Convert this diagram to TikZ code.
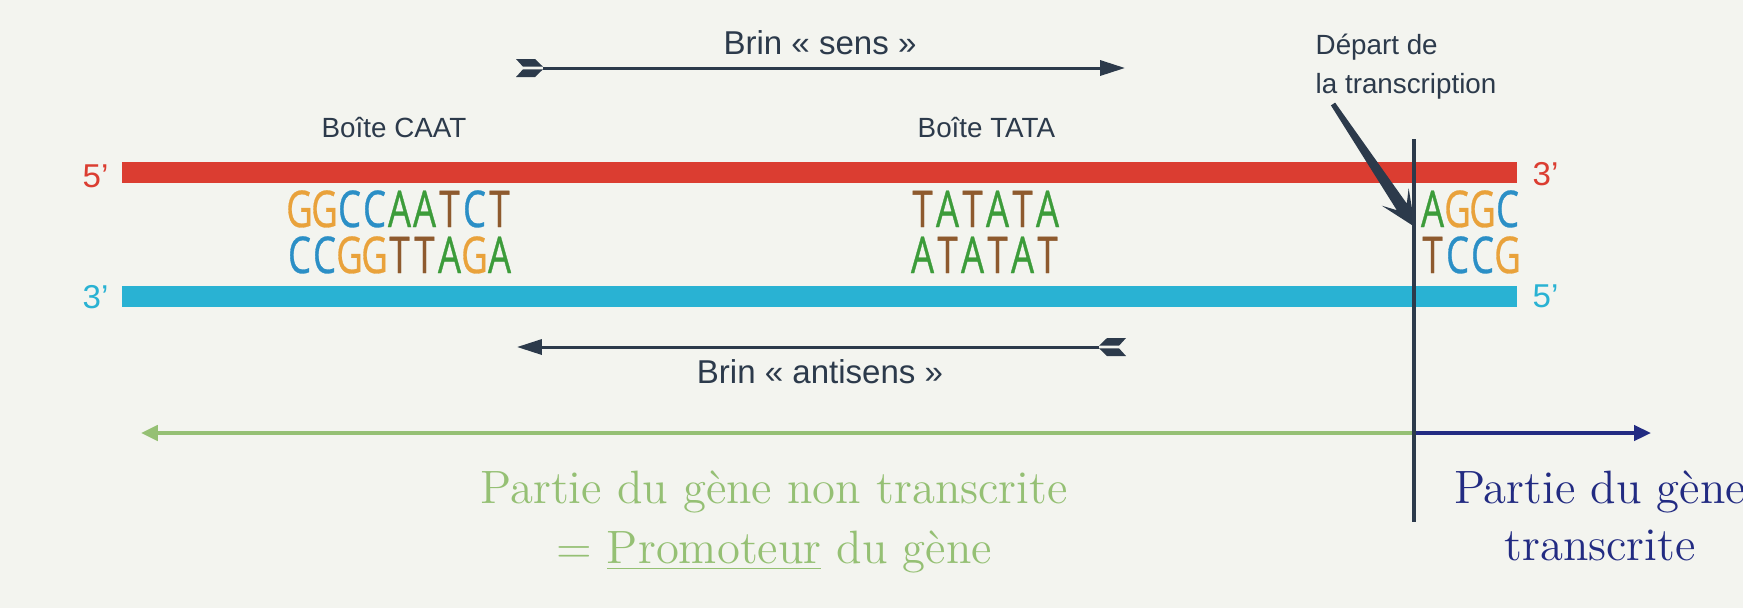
\documentclass[tikz,border=0pt]{standalone}
\usepackage{fontspec}
\usepackage{xcolor}
\usepackage{tikz}
\usetikzlibrary{arrows.meta}

\newfontfamily\labfont{Liberation Sans}
\newfontfamily\nucfont[FakeStretch=0.72, FakeBold=0.6]{Open Sans}

\definecolor{fond}{HTML}{F3F4EF}
\definecolor{ardoise}{HTML}{2C3A4B}
\definecolor{rouge}{HTML}{DB3D31}
\definecolor{cyanbrin}{HTML}{29B2D3}
\definecolor{vertclair}{HTML}{95C074}
\definecolor{marine}{HTML}{222B82}
\definecolor{nucA}{HTML}{3C9C3A}
\definecolor{nucC}{HTML}{2B8FC6}
\definecolor{nucG}{HTML}{E9A23B}
\definecolor{nucT}{HTML}{8E5A2E}

% une ligne de bases : nom, x de depart, ligne de base, bases
\newcommand{\sequence}[4]{%
  \foreach \b [count=\i] in {#4}
    \node[nuc=\b] (#1-\i) at ({#2+25*(\i-0.5)}, #3) {\b};}

\begin{document}
\begin{tikzpicture}[
    x=0.01cm, y=-0.01cm,   % 1 unite = 1 pixel, y vers le bas
    lab/.style={font=\labfont\fontsize{7.9pt}{9.5pt}\selectfont, text=ardoise, inner sep=0pt, anchor=base west},
    brin/.style={font=\labfont\fontsize{9.4pt}{11pt}\selectfont, text=ardoise, inner sep=0pt, anchor=base},
    prime/.style={font=\labfont\fontsize{9.4pt}{11pt}\selectfont, inner sep=0pt, anchor=base west},
    nuc/.style={font=\nucfont\fontsize{14.4pt}{17pt}\selectfont, text=nuc#1, inner sep=0pt, anchor=base},
    gene/.style={font=\fontsize{13.3pt}{17pt}\selectfont, inner sep=0pt, anchor=base},
    fleche/.style={ardoise, line width=0.85pt, -{Triangle[length=7.1pt, width=4.3pt]}},
    fletch/.pic={
        \fill[ardoise] (-27,-9) -- (-8,-9) -- (0,-1.3) -- (-20,-1.3) -- cycle;
        \fill[ardoise] (-27,9) -- (-8,9) -- (0,1.3) -- (-20,1.3) -- cycle;
    },
]

% --- Fond ---
\fill[fond] (0,0) rectangle (1743,608);
\useasboundingbox (0,0) rectangle (1743,608);

% --- Les deux brins ---
\fill[rouge] (122,162) rectangle (1517,183);
\fill[cyanbrin] (122,286) rectangle (1517,307);
\node[prime, text=rouge] (r5) at (82,187) {5’};
\node[prime, text=rouge] (r3) at (1532,185) {3’};
\node[prime, text=cyanbrin] (c3) at (82,308) {3’};
\node[prime, text=cyanbrin] (c5) at (1532,307) {5’};

% --- Sequences ---
\sequence{caath}{287}{227}{G,G,C,C,A,A,T,C,T}
\sequence{caatb}{287}{273}{C,C,G,G,T,T,A,G,A}
\sequence{tatah}{910}{227}{T,A,T,A,T,A}
\sequence{tatab}{910}{273}{A,T,A,T,A,T}
\sequence{deph}{1420}{227}{A,G,G,C}
\sequence{depb}{1420}{273}{T,C,C,G}

% --- Etiquettes ---
\node[lab] (caat) at (321,137) {Boîte CAAT};
\node[lab] (tata) at (917,137) {Boîte TATA};
\node[lab] (depart1) at (1315,54) {Départ de};
\node[lab] (depart2) at (1315,93) {la transcription};

% --- Brin sens ---
\node[brin] (sens) at (820,54) {Brin « sens »};
\coordinate (sens-a) at (543,68);
\coordinate (sens-b) at (1125,68);
\draw[fleche] (sens-a) -- (sens-b);
\pic at (sens-a) {fletch};

% --- Brin antisens ---
\node[brin] (antisens) at (820,383) {Brin « antisens »};
\coordinate (anti-a) at (1099,347);
\coordinate (anti-b) at (517,347);
\draw[fleche] (anti-a) -- (anti-b);
\pic[xscale=-1] at (anti-a) {fletch};

% --- Parties du gene ---
\coordinate (promo) at (141,433);
\coordinate (tss) at (1414,433);
\coordinate (trans) at (1651,433);
\draw[vertclair, line width=1.15pt, -{Triangle[length=4.8pt, width=4.3pt]}] (tss) -- (promo);
\draw[marine, line width=1pt, -{Triangle[length=4.8pt, width=4.3pt]}] (tss) -- (trans);
\node[gene, text=vertclair] (nt1) at (774,503) {Partie du gène non transcrite};
\node[gene, text=vertclair] (nt2) at (774,563) {= \underline{Promoteur} du gène};
\node[gene, text=marine] (tr1) at (1600,503) {Partie du gène};
\node[gene, text=marine] (tr2) at (1600,560) {transcrite};

% --- Depart de la transcription ---
\coordinate (tss-h) at (1414,139);
\coordinate (tss-b) at (1414,522);
\draw[ardoise, line width=1pt] (tss-h) -- (tss-b);
\fill[ardoise] (1335.1,102.6) -- (1406.8,203.6) -- (1408.6,188.1) -- (1415,227)
    -- (1381.8,205.7) -- (1396.8,210.2) -- (1330.9,105.4) -- cycle;

\end{tikzpicture}
\end{document}
